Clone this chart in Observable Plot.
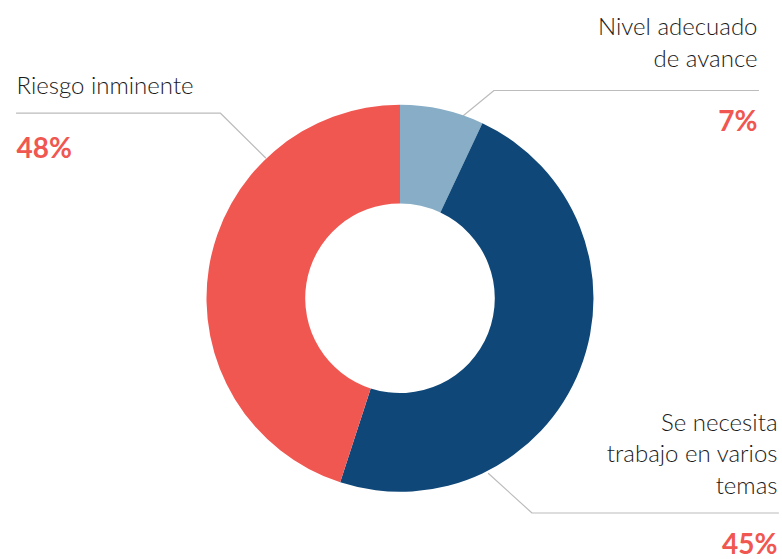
<!DOCTYPE html>
<html>
<head>
<meta charset="utf-8">
<script src="https://cdn.jsdelivr.net/npm/d3@7"></script>
<script src="https://cdn.jsdelivr.net/npm/@observablehq/plot@0.6"></script>
<style>
  html, body { margin: 0; padding: 0; background: #fff; }
  #chart svg { display: block; font-family: Lato, "Open Sans", sans-serif; }
</style>
</head>
<body>
<div id="chart"></div>
<script>
// ---- data (slice sizes as read from the drawn arcs, clockwise from 12 o'clock) ----
const categories = ["Nivel adecuado\nde avance", "Se necesita\ntrabajo en varios\ntemas", "Riesgo inminente"];
const sliceValues = [7, 48, 45];
const percentLabels = ["7%", "45%", "48%"];
const colors = ["#87aec6", "#0e4778", "#f05751"];

// ---- layout (pixel space of the 782x559 canvas) ----
const W = 782, H = 559;
const center = [400, 298.3];
const outerR = 193.5, innerR = 94.8;
const layout = [
  {tx: 757, ty: 66.5, anchor: "end", px: 757, py: 130,
   leader: [[463, 115], [493.5, 90], [758, 90]]},
  {tx: 777, ty: 493.3, anchor: "end", px: 777, py: 553,
   leader: [[488, 473], [531.5, 512.5], [778, 512.5]]},
  {tx: 16, ty: 93.3, anchor: "start", px: 16, py: 157.3,
   leader: [[265, 157.3], [220, 112.7], [16, 112.7]]}
];

const pie = d3.pie().sort(null).value(d => d)(sliceValues);
const slices = pie.map((p, i) => ({...p, color: colors[i], name: categories[i]}));

function donutMark(index, scales) {
  const cx = scales.x(center[0]), cy = scales.y(center[1]);
  const ro = scales.x(center[0] + outerR) - cx;
  const ri = scales.x(center[0] + innerR) - cx;
  const arc = d3.arc().innerRadius(ri).outerRadius(ro);
  const g = d3.create("svg:g").attr("transform", `translate(${cx},${cy})`);
  g.selectAll("path").data(slices).join("path")
    .attr("d", d => arc(d))
    .attr("fill", d => d.color);
  return g.node();
}

const leaders = layout.flatMap((l, i) => l.leader.map(([x, y]) => ({x, y, k: i})));
const labels = layout.map((l, i) => ({x: l.tx, y: l.ty, text: categories[i], anchor: l.anchor}));
const pcts = layout.map((l, i) => ({x: l.px, y: l.py, text: percentLabels[i], anchor: l.anchor}));

const labelStyle = {x: "x", y: "y", text: "text", lineAnchor: "bottom", lineHeight: 1.315,
  fontSize: 24, fontWeight: 300, fill: "#1a1a1a"};
const pctStyle = {x: "x", y: "y", text: "text", lineAnchor: "bottom",
  fontSize: 28, fontWeight: 700, fill: "#f05751"};

const chart = Plot.plot({
  width: W, height: H, margin: 0,
  x: {domain: [0, W], range: [0, W], axis: null},
  y: {domain: [0, H], range: [0, H], axis: null},
  style: {fontFamily: "Lato, 'Open Sans', sans-serif", background: "#fff"},
  marks: [
    Plot.line(leaders, {x: "x", y: "y", z: "k", stroke: "#bcbcbc", strokeWidth: 1.2}),
    donutMark,
    Plot.text(labels.filter(d => d.anchor === "end"), {...labelStyle, textAnchor: "end"}),
    Plot.text(labels.filter(d => d.anchor === "start"), {...labelStyle, textAnchor: "start"}),
    Plot.text(pcts.filter(d => d.anchor === "end"), {...pctStyle, textAnchor: "end"}),
    Plot.text(pcts.filter(d => d.anchor === "start"), {...pctStyle, textAnchor: "start"})
  ]
});
document.getElementById("chart").appendChild(chart);
</script>
</body>
</html>
